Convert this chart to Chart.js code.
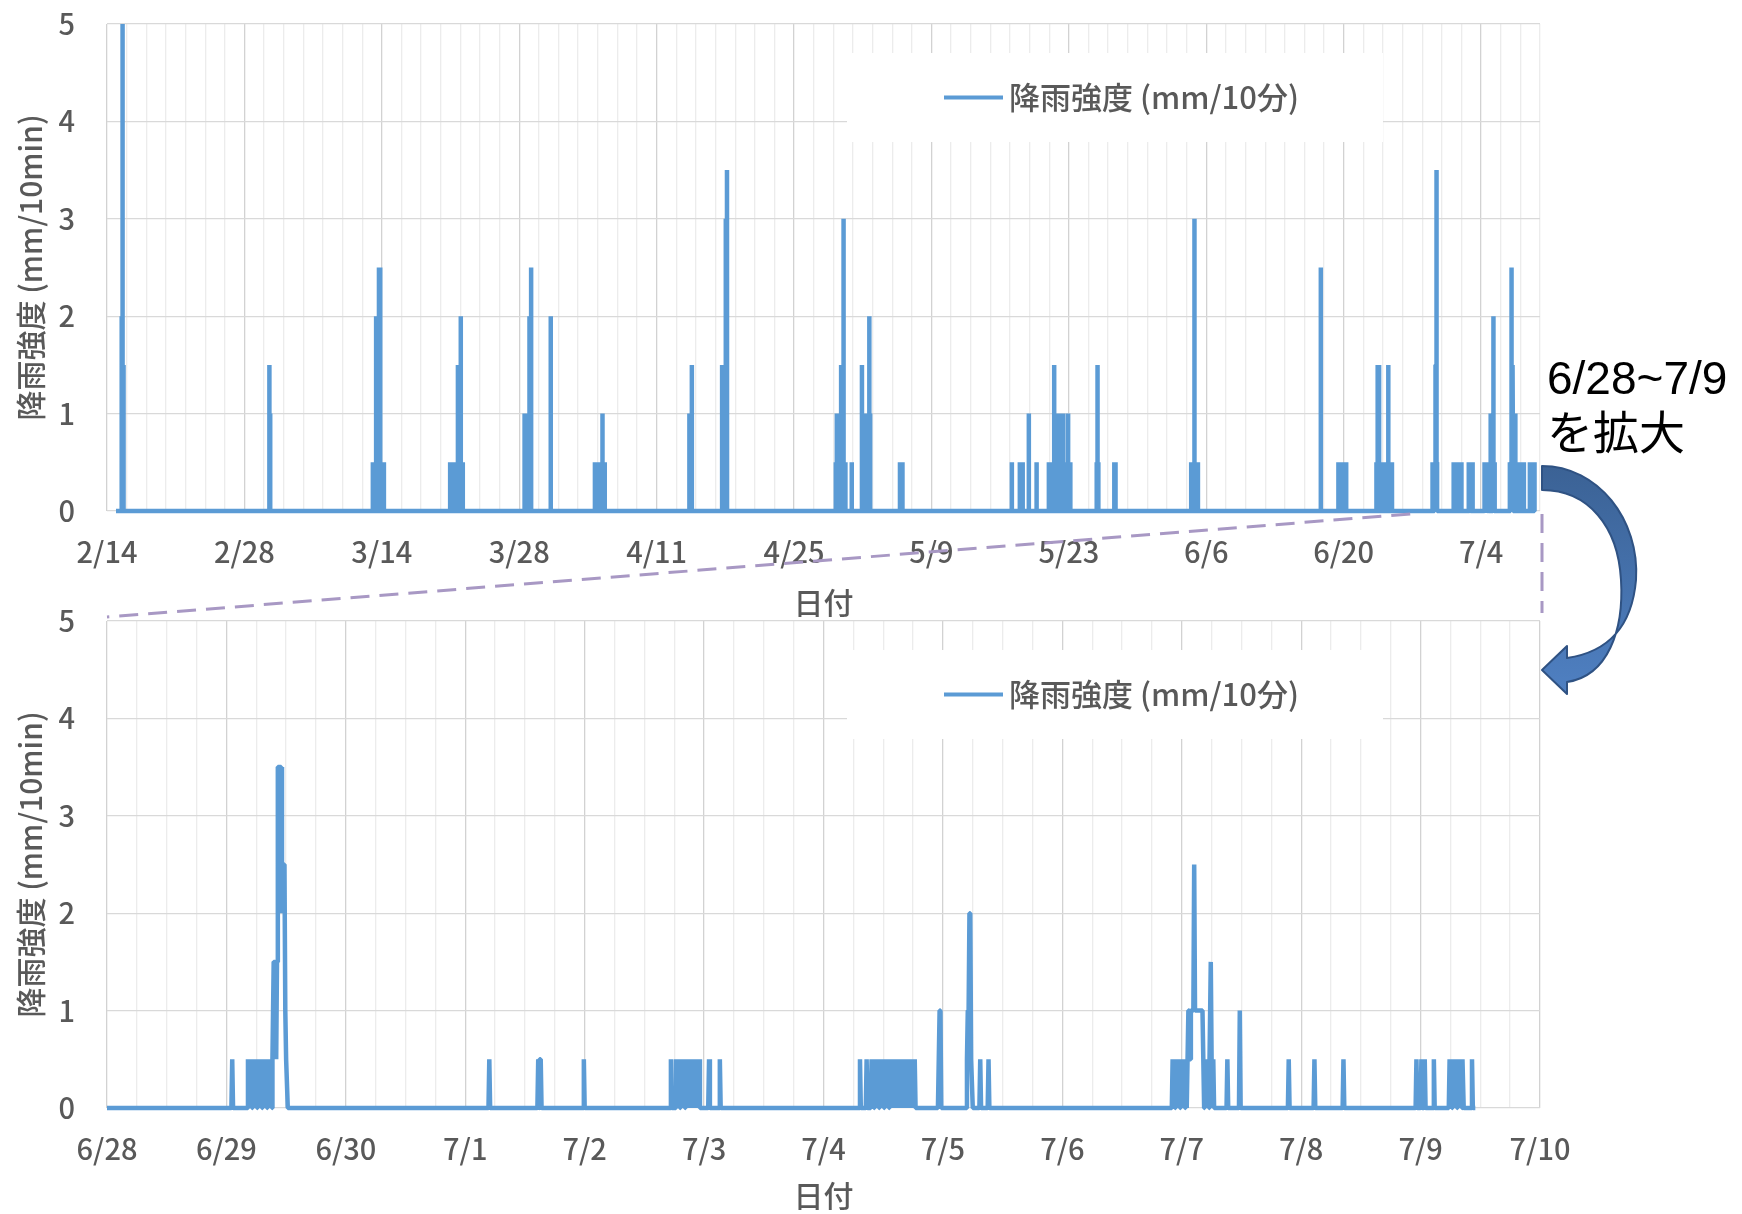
<!DOCTYPE html>
<html lang="ja">
<head>
<meta charset="utf-8">
<title>降雨強度</title>
<script src="https://cdn.jsdelivr.net/npm/chart.js@4.4.1/dist/chart.umd.min.js"></script>
<style>
  html, body { margin: 0; padding: 0; background: #fff; }
  #page { position: relative; width: 1742px; height: 1214px; overflow: hidden; }
  #topChart { position: absolute; left: 0; top: 0; }
  #zoomChart { position: absolute; left: 0; top: 600px; }
  #overlay { position: absolute; left: 0; top: 0; pointer-events: none; }
  .note { position: absolute; left: 1547px; font-family: "Liberation Sans", Arial, "Noto Sans CJK JP", sans-serif; font-size: 46px; line-height: 1; color: #000; white-space: nowrap; }
</style>
</head>
<body>
<div id="page">
  <canvas id="topChart" width="1600" height="625"></canvas>
  <canvas id="zoomChart" width="1600" height="614"></canvas>
  <canvas id="overlay" width="1742" height="1214"></canvas>
  <div class="note" style="top:355px">6/28~7/9</div>
  <div class="note" style="top:410px">を拡大</div>
</div>
<script>
// 10-minute rain gauge; only the wet readings are listed, every other slot is 0
var seriesStart = '2/14 22:00';
var seriesEnd = '7/9 11:00';

var rainTimes = [
  '2/15 11:00','2/15 12:30','2/15 14:00','2/15 15:30','2/15 17:00',
  '3/2 13:00','3/2 15:00',
  '3/13 02:00','3/13 05:00','3/13 08:00','3/13 10:00','3/13 13:00','3/13 17:00','3/13 20:00','3/13 23:00','3/14 02:00','3/14 05:00',
  '3/20 23:00','3/21 02:00','3/21 05:00','3/21 08:00','3/21 11:00','3/21 14:00','3/21 18:00','3/21 21:00','3/22 01:00','3/22 04:00','3/22 06:00',
  '3/28 13:00','3/28 16:00','3/28 19:00','3/28 22:00','3/29 01:00','3/29 05:00',
  '3/31 05:00',
  '4/4 17:00','4/4 20:00','4/4 23:00','4/5 02:00','4/5 05:00','4/5 08:00','4/5 11:30','4/5 14:00','4/5 17:00',
  '4/14 08:00','4/14 14:00',
  '4/17 16:00','4/17 20:00','4/18 01:00','4/18 04:00',
  '4/29 06:00','4/29 08:30','4/29 12:00','4/29 16:00','4/29 19:00','4/29 22:00','4/30 01:00','4/30 03:00','4/30 05:30','4/30 21:00',
  '5/1 22:00','5/2 02:00','5/2 06:00','5/2 10:00','5/2 14:00','5/2 16:00','5/2 18:00',
  '5/5 19:00','5/5 22:00','5/6 01:00',
  '5/17 04:30','5/18 00:00','5/18 04:00','5/18 07:00','5/18 22:00','5/19 17:00',
  '5/20 23:00','5/21 02:00','5/21 05:00','5/21 08:00','5/21 12:00','5/21 15:00','5/21 18:00','5/21 22:00','5/22 02:00','5/22 06:00','5/22 10:00','5/22 14:00','5/22 18:00','5/22 22:00','5/23 01:00','5/23 03:30',
  '5/25 20:00','5/25 22:00','5/26 00:00','5/27 15:00','5/27 18:00',
  '6/4 11:00','6/4 14:00','6/4 17:00','6/4 19:00','6/4 22:00','6/5 01:00','6/5 03:30',
  '6/17 16:00',
  '6/19 11:00','6/19 14:00','6/19 17:00','6/19 20:00','6/19 23:00','6/20 02:00','6/20 06:00',
  '6/23 08:00','6/23 11:00','6/23 14:30','6/23 18:00','6/23 21:00','6/24 00:00','6/24 03:00','6/24 06:00','6/24 09:00','6/24 13:00','6/24 16:00','6/24 19:00','6/24 22:00',
  '6/29 01:10','6/29 04:20','6/29 04:40','6/29 05:00','6/29 05:20','6/29 05:40','6/29 06:00','6/29 06:20','6/29 06:40','6/29 07:00','6/29 07:20','6/29 07:40','6/29 08:00','6/29 08:20','6/29 08:40','6/29 09:00','6/29 09:20',
  '6/29 09:30','6/29 09:40','6/29 09:50','6/29 10:00','6/29 10:10','6/29 10:20','6/29 10:30','6/29 10:40','6/29 10:50','6/29 11:00','6/29 11:10','6/29 11:20','6/29 11:30','6/29 11:40','6/29 11:50','6/29 12:00','6/29 12:10',
  '7/1 04:50','7/1 14:40','7/1 15:00','7/1 15:10','7/1 23:50',
  '7/2 17:20','7/2 18:20','7/2 18:40','7/2 19:00','7/2 19:20','7/2 19:40','7/2 20:00','7/2 20:20','7/2 20:40','7/2 21:00','7/2 21:20','7/2 21:40','7/2 22:00','7/2 22:20','7/2 22:40','7/2 23:00','7/3 01:00','7/3 03:10',
  '7/4 07:20','7/4 08:40','7/4 09:40','7/4 10:00','7/4 10:20','7/4 10:40','7/4 11:00','7/4 11:20','7/4 11:40','7/4 12:00','7/4 12:20','7/4 12:40','7/4 13:00','7/4 13:20','7/4 13:40','7/4 14:00',
  '7/4 14:20','7/4 14:40','7/4 15:00','7/4 15:20','7/4 15:40','7/4 16:00','7/4 16:20','7/4 16:40','7/4 17:00','7/4 17:20','7/4 17:40','7/4 18:00','7/4 18:20','7/4 23:10','7/4 23:20','7/4 23:30',
  '7/5 04:50','7/5 05:00','7/5 05:10','7/5 05:20','7/5 05:30','7/5 05:40','7/5 05:50','7/5 07:30','7/5 09:10',
  '7/6 22:10','7/6 22:30','7/6 22:50','7/6 23:10','7/6 23:30','7/6 23:50','7/7 00:10','7/7 00:30','7/7 00:50','7/7 01:10',
  '7/7 01:20','7/7 01:30','7/7 01:40','7/7 01:50','7/7 02:00','7/7 02:10','7/7 02:20','7/7 02:30','7/7 02:40','7/7 02:50','7/7 03:00','7/7 03:10','7/7 03:20','7/7 03:30','7/7 03:40','7/7 03:50','7/7 04:00','7/7 04:10',
  '7/7 04:20','7/7 04:40','7/7 05:00','7/7 05:20','7/7 05:40','7/7 05:50','7/7 06:00','7/7 06:20','7/7 09:10','7/7 11:40','7/7 21:30',
  '7/8 02:40','7/8 08:30','7/8 23:10','7/9 00:10','7/9 00:50','7/9 02:40','7/9 05:50','7/9 06:10','7/9 06:30','7/9 06:50','7/9 07:10','7/9 07:30','7/9 07:50','7/9 08:10','7/9 08:30','7/9 10:20'
];

var rainValues = [
  2, 2, 5, 1.5, 1.5,
  1.5, 1,
  0.5, 0.5, 0.5, 2, 2, 2.5, 2.5, 0.5, 0.5, 0.5,
  0.5, 0.5, 0.5, 0.5, 0.5, 0.5, 1.5, 0.5, 2, 0.5, 0.5,
  1, 1, 1, 1, 2, 2.5,
  2,
  0.5, 0.5, 0.5, 0.5, 0.5, 0.5, 1, 0.5, 0.5,
  1, 1.5,
  1.5, 1.5, 3, 3.5,
  0.5, 1, 0.5, 0.5, 1.5, 0.5, 3, 0.5, 0.5, 0.5,
  1.5, 1, 1, 1, 1, 2, 1,
  0.5, 0.5, 0.5,
  0.5, 0.5, 0.5, 0.5, 1, 0.5,
  0.5, 0.5, 0.5, 0.5, 1.5, 0.5, 1, 1, 1, 1, 1, 0.5, 0.5, 1, 0.5, 0.5,
  0.5, 1.5, 0.5, 0.5, 0.5,
  0.5, 0.5, 0.5, 3, 0.5, 0.5, 0.5,
  2.5,
  0.5, 0.5, 0.5, 0.5, 0.5, 0.5, 0.5,
  0.5, 1.5, 1.5, 0.5, 0.5, 0.5, 0.5, 0.5, 0.5, 1.5, 0.5, 0.5, 0.5,
  0.5, 0.5, 0.5, 0.5, 0.5, 0.5, 0.5, 0.5, 0.5, 0.5, 0.5, 0.5, 0.5, 0.5, 0.5, 0.5, 0.5,
  1.5, 1.5, 1.5, 0.5, 1.5, 3.5, 3.5, 3.5, 3.5, 3.5, 2, 2.5, 2.5, 2.5, 1, 0.5, 0.5,
  0.5, 0.5, 0.5, 0.5, 0.5,
  0.5, 0.5, 0.5, 0.5, 0.5, 0.5, 0.5, 0.5, 0.5, 0.5, 0.5, 0.5, 0.5, 0.5, 0.5, 0.5, 0.5, 0.5,
  0.5, 0.5, 0.5, 0.5, 0.5, 0.5, 0.5, 0.5, 0.5, 0.5, 0.5, 0.5, 0.5, 0.5, 0.5, 0.5,
  0.5, 0.5, 0.5, 0.5, 0.5, 0.5, 0.5, 0.5, 0.5, 0.5, 0.5, 0.5, 0.5, 0.5, 1, 1,
  0.5, 1, 1, 2, 2, 0.5, 0.5, 0.5, 0.5,
  0.5, 0.5, 0.5, 0.5, 0.5, 0.5, 0.5, 0.5, 0.5, 0.5,
  1, 1, 0.5, 1, 1, 1, 1, 2.5, 1, 1, 1, 1, 1, 1, 1, 1, 1, 1,
  0.5, 0.5, 0.5, 0.5, 0.5, 1.5, 0.5, 0.5, 0.5, 1, 0.5,
  0.5, 0.5, 0.5, 0.5, 0.5, 0.5, 0.5, 0.5, 0.5, 0.5, 0.5, 0.5, 0.5, 0.5, 0.5, 0.5
];

var overviewLabels = ['2/14','2/28','3/14','3/28','4/11','4/25','5/9','5/23','6/6','6/20','7/4'];
var overviewRange = ['2/14', '7/10'];
var zoomLabels = ['6/28','6/29','6/30','7/1','7/2','7/3','7/4','7/5','7/6','7/7','7/8','7/9','7/10'];
var zoomRange = ['6/28', '7/10'];
var yTicks = [0, 1, 2, 3, 4, 5];

var TEXT = '#595959';
var FONT = '"Noto Sans CJK JP", "Noto Sans", sans-serif';
var LINE = '#5b9bd5';
var STEP = 10 / 1440;

// days since 2/14 00:00
function dayOf(s) {
    var parts = s.split(' ');
    var md = parts[0].split('/').map(Number);
    var hm = (parts[1] || '0:00').split(':').map(Number);
    return (Date.UTC(2015, md[0] - 1, md[1], hm[0], hm[1]) - Date.UTC(2015, 1, 14)) / 86400000;
}

function buildSeries() {
    var readings = rainTimes.map(function(t, i) { return { x: dayOf(t), y: rainValues[i] }; });
    readings.sort(function(a, b) { return a.x - b.x; });
    var pts = [{ x: dayOf(seriesStart), y: 0 }];
    readings.forEach(function(r, i) {
        var prev = i > 0 ? readings[i - 1].x : -Infinity;
        var next = i < readings.length - 1 ? readings[i + 1].x : Infinity;
        if (r.x - prev > STEP * 1.5) pts.push({ x: r.x - STEP, y: 0 });
        pts.push(r);
        if (next - r.x > STEP * 1.5) pts.push({ x: r.x + STEP, y: 0 });
    });
    pts.push({ x: dayOf(seriesEnd), y: 0 });
    return pts;
}

var series = buildSeries();

var insetLegend = {
    id: 'insetLegend',
    beforeDatasetsDraw: function(chart, args, o) {
        var ctx = chart.ctx, a = chart.chartArea;
        var ds = chart.data.datasets[0];
        var cy = a.top + o.top + o.height / 2;
        ctx.save();
        ctx.fillStyle = '#fff';
        ctx.fillRect(a.left + o.left, a.top + o.top, o.width, o.height);
        ctx.strokeStyle = ds.borderColor;
        ctx.lineWidth = 4;
        ctx.beginPath();
        ctx.moveTo(a.left + o.lineX, cy);
        ctx.lineTo(a.left + o.lineX + o.lineLen, cy);
        ctx.stroke();
        ctx.fillStyle = TEXT;
        ctx.font = '500 ' + o.fontSize + 'px ' + FONT;
        ctx.textBaseline = 'middle';
        ctx.fillText(ds.label, a.left + o.lineX + o.lineLen + o.gap, cy);
        ctx.restore();
    }
};

function makeChart(id, labels, range, minorStep, pad, xHeight) {
    var labelDays = labels.map(dayOf);
    function labelFor(v) {
        for (var i = 0; i < labelDays.length; i++) {
            if (Math.abs(labelDays[i] - v) < 1e-6) return labels[i];
        }
        return '';
    }
    var min = dayOf(range[0]), max = dayOf(range[1]);
    return new Chart(document.getElementById(id).getContext('2d'), {
        type: 'line',
        data: {
            datasets: [{
                label: '降雨強度 (mm/10分)',
                data: series,
                borderColor: LINE,
                backgroundColor: LINE,
                borderWidth: 4.5,
                borderJoinStyle: 'bevel',
                pointRadius: 0,
                pointHitRadius: 0,
                tension: 0,
                fill: false,
                clip: { left: 0, right: 0, top: 3, bottom: 3 }
            }]
        },
        options: {
            responsive: false,
            animation: false,
            events: [],
            layout: { padding: { top: pad.top, right: pad.right, bottom: 0, left: 0 } },
            plugins: {
                legend: { display: false },
                tooltip: { enabled: false },
                insetLegend: { left: 740, top: 29, width: 536, height: 89, lineX: 837, lineLen: 59, gap: 6, fontSize: 31 }
            },
            scales: {
                x: {
                    type: 'linear',
                    min: min,
                    max: max,
                    afterBuildTicks: function(s) {
                        var ticks = [];
                        for (var v = min; v <= max + 1e-9; v += minorStep) ticks.push({ value: v });
                        s.ticks = ticks;
                    },
                    afterFit: function(s) { s.height = xHeight; s.paddingLeft = 0; s.paddingRight = 0; },
                    ticks: {
                        autoSkip: false,
                        maxRotation: 0,
                        padding: 24,
                        color: TEXT,
                        font: { size: 29, family: FONT, weight: '500' },
                        callback: function(v) { return labelFor(v); }
                    },
                    grid: {
                        drawTicks: false,
                        lineWidth: 1.3,
                        color: function(c) { return c.tick && labelFor(c.tick.value) ? '#d2d2d2' : '#ececec'; }
                    },
                    border: { display: false },
                    title: { display: true, text: '日付', color: TEXT, font: { size: 30, family: FONT, weight: '500' }, padding: { top: 0, bottom: pad.titleBottom } }
                },
                y: {
                    min: 0,
                    max: 5,
                    afterBuildTicks: function(s) { s.ticks = yTicks.map(function(v) { return { value: v }; }); },
                    afterFit: function(s) { s.width = 107; s.paddingTop = 0; s.paddingBottom = 0; },
                    ticks: { padding: 32, color: TEXT, font: { size: 29, family: FONT, weight: '500' } },
                    grid: { drawTicks: false, color: '#d9d9d9', lineWidth: 1.3 },
                    border: { display: false },
                    title: { display: true, text: '降雨強度 (mm/10min)', color: TEXT, font: { size: 30, family: FONT, weight: '500' }, padding: { top: 13, bottom: 0 } }
                }
            }
        },
        plugins: [insetLegend]
    });
}

var topChart = makeChart('topChart', overviewLabels, overviewRange, 2, { top: 24, right: 60, titleBottom: 4 }, 114);
var zoomChart = makeChart('zoomChart', zoomLabels, zoomRange, 0.25, { top: 21, right: 60, titleBottom: 0 }, 106);

// connector lines and the curved arrow between the two panels
function drawOverlay() {
    var ctx = document.getElementById('overlay').getContext('2d');
    var zoomTop = 600;
    var tx = topChart.scales.x, ty = topChart.scales.y;
    var zx = zoomChart.scales.x, zy = zoomChart.scales.y;
    var from = dayOf(zoomRange[0]), to = dayOf(zoomRange[1]);

    ctx.save();
    ctx.strokeStyle = '#a898c4';
    ctx.lineWidth = 3;
    ctx.setLineDash([19, 10]);
    ctx.beginPath();
    ctx.moveTo(tx.getPixelForValue(from) - 12, ty.getPixelForValue(0) + 3);
    ctx.lineTo(zx.getPixelForValue(from), zoomTop + zy.getPixelForValue(5) - 4);
    ctx.moveTo(tx.getPixelForValue(to) + 2, ty.getPixelForValue(0) + 3);
    ctx.lineTo(zx.getPixelForValue(to) + 2, zoomTop + zy.getPixelForValue(5) - 8);
    ctx.stroke();
    ctx.restore();

    var x0 = topChart.chartArea.right + 2;
    var y0 = ty.getPixelForValue(0) - 45;
    var grad = ctx.createLinearGradient(0, y0, 0, y0 + 228);
    grad.addColorStop(0, '#3b6295');
    grad.addColorStop(1, '#4f80c2');
    ctx.save();
    ctx.beginPath();
    ctx.moveTo(x0, y0);
    ctx.bezierCurveTo(x0 + 56, y0, x0 + 98, y0 + 54, x0 + 94, y0 + 114);
    ctx.bezierCurveTo(x0 + 90, y0 + 160, x0 + 66, y0 + 186, x0 + 25, y0 + 192);
    ctx.lineTo(x0 + 25, y0 + 180);
    ctx.lineTo(x0, y0 + 204);
    ctx.lineTo(x0 + 25, y0 + 228);
    ctx.lineTo(x0 + 25, y0 + 216);
    ctx.bezierCurveTo(x0 + 66, y0 + 210, x0 + 82, y0 + 164, x0 + 79, y0 + 114);
    ctx.bezierCurveTo(x0 + 76, y0 + 60, x0 + 46, y0 + 24, x0, y0 + 24);
    ctx.closePath();
    ctx.fillStyle = grad;
    ctx.fill();
    ctx.strokeStyle = '#2f5283';
    ctx.lineWidth = 2;
    ctx.lineJoin = 'round';
    ctx.stroke();
    ctx.restore();
}
drawOverlay();
</script>
</body>
</html>
